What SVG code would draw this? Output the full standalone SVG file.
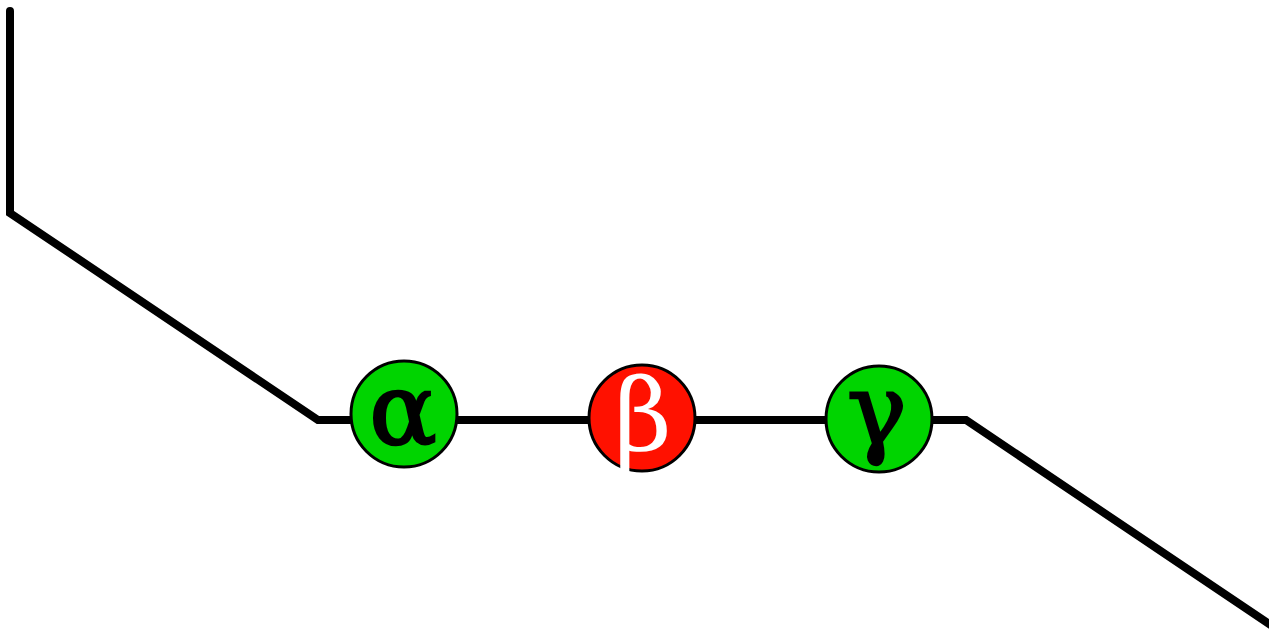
<svg xmlns="http://www.w3.org/2000/svg" width="1269" height="629" viewBox="0 0 1269 629">
<style>
.wire{fill:none;stroke:#000;stroke-width:8;stroke-linejoin:miter;stroke-linecap:round}
.node{stroke:#000;stroke-width:3}
.g{fill:#00d400}
.r{fill:#ff1100}
.lbl{font-family:"DejaVu Serif","Liberation Serif",serif;font-size:100px;text-anchor:middle}
.dark{fill:#000;stroke:#000;stroke-width:2.5}
</style>
<rect width="1269" height="629" fill="#fff"/>
<g id="connectors">
<path class="wire" d="M10,11 V213 L318,420 H966 L1290,638"/>
</g>
<g id="alpha">
<circle class="node g" cx="404" cy="414" r="53"/>
<text class="lbl dark" x="403" y="444" font-size="104">α</text>
</g>
<g id="beta">
<circle class="node r" cx="642" cy="418" r="53"/>
<text class="lbl" x="643" y="450" fill="#fff">β</text>
</g>
<g id="gamma">
<circle class="node g" cx="879" cy="419" r="53"/>
<text class="lbl dark" x="877" y="444">γ</text>
</g>
</svg>
